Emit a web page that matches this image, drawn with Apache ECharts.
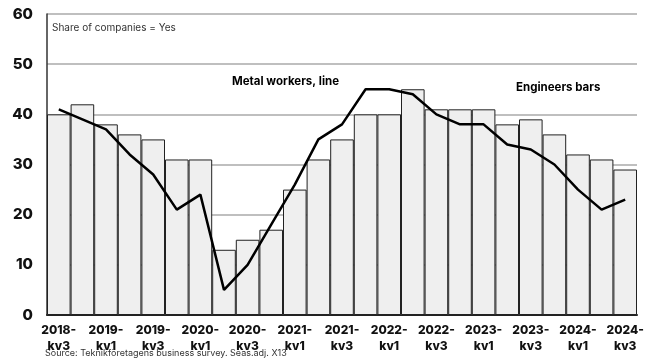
<!DOCTYPE html>
<html>
<head>
<meta charset="utf-8">
<script src="https://cdn.jsdelivr.net/npm/echarts@6/dist/echarts.min.js"></script>
<style>html,body{margin:0;padding:0;background:#fff}#c{width:656px;height:363px}</style>
</head>
<body>
<div id="c"></div>
<script>
const categories = ['2018-kv3','2018-kv4','2019-kv1','2019-kv2','2019-kv3','2019-kv4','2020-kv1','2020-kv2','2020-kv3','2020-kv4','2021-kv1','2021-kv2','2021-kv3','2021-kv4','2022-kv1','2022-kv2','2022-kv3','2022-kv4','2023-kv1','2023-kv2','2023-kv3','2023-kv4','2024-kv1','2024-kv2','2024-kv3'];
const engineers = [40,42,38,36,35,31,31,13,15,17,25,31,35,40,40,45,41,41,41,38,39,36,32,31,29];
const metalWorkers = [41,39,37,32,28,21,24,5,10,18,26,35,38,45,45,44,40,38,38,34,33,30,25,21,23];
const yTicks = [0,10,20,30,40,50,60];

const FONT = 'Inter, "Liberation Sans", sans-serif';
const chart = echarts.init(document.getElementById('c'), null, {renderer:'canvas'});
chart.setOption({
  animation:false,
  backgroundColor:'#fff',
  grid:{left:47,right:19,top:14,bottom:48},
  xAxis:{
    type:'category', data:categories,
    axisLine:{lineStyle:{color:'#222',width:2}},
    axisTick:{show:false},
    axisLabel:{interval:1, formatter:v=>v.replace('-','-\n'), fontFamily:FONT, fontWeight:800, fontSize:12, color:'#111', lineHeight:16, margin:7}
  },
  yAxis:{
    type:'value', min:yTicks[0], max:yTicks[yTicks.length-1], interval:10,
    axisLine:{show:true,lineStyle:{color:'#333',width:1.5}},
    axisTick:{show:false},
    splitLine:{lineStyle:{color:'#aaa',width:1.5}},
    axisLabel:{fontFamily:FONT, fontWeight:800, fontSize:15, color:'#111', margin:14}
  },
  series:[
    {type:'bar', data:engineers, barCategoryGap:'0%', itemStyle:{color:'#efefef', borderColor:'#222', borderWidth:1}},
    {type:'line', data:metalWorkers, symbol:'none', lineStyle:{color:'#000', width:2.5}, z:5}
  ],
  graphic:[
    {type:'text', left:52, top:23, style:{text:'Share of companies = Yes', fontFamily:FONT, fontSize:10, fill:'#333'}},
    {type:'text', left:232, top:76, style:{text:'Metal workers, line', fontFamily:FONT, fontWeight:700, fontSize:11.5, fill:'#000'}},
    {type:'text', left:516, top:82, style:{text:'Engineers bars', fontFamily:FONT, fontWeight:700, fontSize:11.5, fill:'#000'}},
    {type:'text', left:45, top:349, style:{text:'Source: Teknikföretagens business survey. Seas.adj. X13', fontFamily:FONT, fontSize:9, fill:'#333'}}
  ]
});
</script>
</body>
</html>
